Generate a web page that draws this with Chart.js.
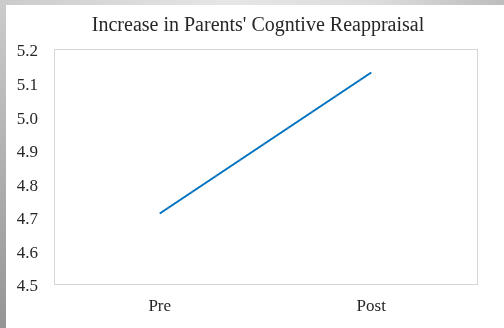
<!DOCTYPE html>
<html>
<head>
<meta charset="utf-8">
<script src="https://cdn.jsdelivr.net/npm/chart.js@4/dist/chart.umd.min.js"></script>
<style>
  html, body { margin: 0; padding: 0; background: #ffffff; }
  #wrap { position: relative; width: 504px; height: 328px; overflow: hidden; }
  #topEdge { position: absolute; left: 0; top: 0; width: 504px; height: 5px;
    background: linear-gradient(to right, #cbcbcb, #e6e6e6 45%, #dcdcdc 75%, #bdbdbd); }
  #leftEdge { position: absolute; left: 0; top: 0; width: 6px; height: 328px;
    background: linear-gradient(to bottom, #cccccc, #b0b0b0 50%, #959595); }
  canvas { position: absolute; left: 0; top: 0; }
</style>
</head>
<body>
<div id="wrap">
  <div id="topEdge"></div>
  <div id="leftEdge"></div>
  <canvas id="chart" width="504" height="328"></canvas>
</div>
<script>
const titleText = "Increase in Parents' Cogntive Reappraisal";
const categories = ["Pre", "Post"];
const reappraisal = [4.71, 5.13];
const yMin = 4.5;
const yMax = 5.2;
const yStep = 0.1;

const serif = "'Liberation Serif', 'Times New Roman', serif";

// Light grey frame around the plotting area
const plotFrame = {
  id: 'plotFrame',
  beforeDatasetsDraw(chart) {
    const a = chart.chartArea;
    const ctx = chart.ctx;
    ctx.save();
    ctx.strokeStyle = '#d6d6d6';
    ctx.lineWidth = 1;
    ctx.strokeRect(Math.round(a.left) + 0.5, Math.round(a.top) + 0.5,
                   Math.round(a.right - a.left), Math.round(a.bottom - a.top));
    ctx.restore();
  }
};

// Center the title over the span from the tick labels to the plot's right edge
const titleSpan = {
  id: 'titleSpan',
  afterLayout(chart) {
    const t = chart.titleBlock;
    if (t) {
      t.left = 39;
      t.right = chart.chartArea.right;
    }
  }
};

new Chart(document.getElementById('chart'), {
  type: 'line',
  data: {
    labels: categories,
    datasets: [{
      data: reappraisal,
      borderColor: '#0070c0',
      borderWidth: 2,
      pointRadius: 0,
      tension: 0,
      fill: false
    }]
  },
  options: {
    responsive: false,
    animation: false,
    devicePixelRatio: 1,
    layout: { padding: { left: 0, right: 27, top: 0, bottom: 0 } },
    plugins: {
      legend: { display: false },
      tooltip: { enabled: false },
      title: {
        display: true,
        text: titleText,
        color: '#262626',
        font: { family: serif, size: 20, weight: 'normal' },
        padding: { top: 14, bottom: 11 }
      }
    },
    scales: {
      x: {
        offset: true,
        grid: { display: false, drawTicks: false },
        border: { display: false },
        ticks: { color: '#262626', font: { family: serif, size: 17 }, padding: 12 },
        afterFit(scale) { scale.height = 44; }
      },
      y: {
        min: yMin,
        max: yMax,
        grid: { display: false, drawTicks: false },
        border: { display: false },
        ticks: {
          stepSize: yStep,
          color: '#262626',
          font: { family: serif, size: 17 },
          padding: 16,
          labelOffset: 3,
          callback: v => Number(v).toFixed(1)
        },
        afterFit(scale) { scale.width = 54; }
      }
    }
  },
  plugins: [plotFrame, titleSpan]
});
</script>
</body>
</html>
